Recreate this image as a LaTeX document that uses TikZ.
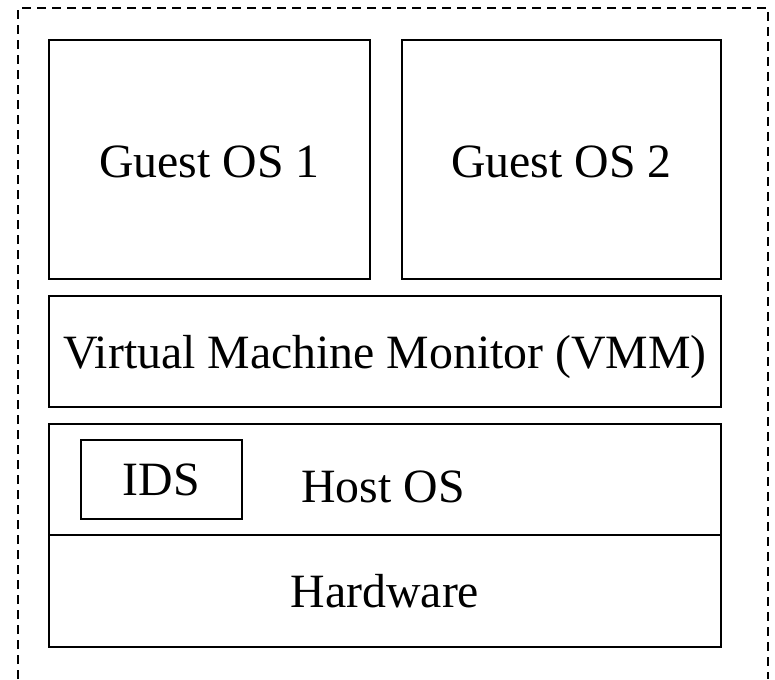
\documentclass[tikz,border=0pt]{standalone}
\usepackage{fontspec}
\setmainfont{Liberation Serif}
\begin{document}
\begin{tikzpicture}[x=1pt,y=-1pt,
  layer/.style={draw=black,line width=2pt,rectangle,inner sep=0pt,outer sep=0pt,
    text height=31.6pt,text depth=0pt,font=\fontsize{47.8}{57}\selectfont},
  frame/.style={draw=black,line width=2pt,dash pattern=on 9pt off 6pt}]
\useasboundingbox (0,0) rectangle (775,679);
\coordinate (fbl) at (18,679);
\coordinate (ftl) at (18,8);
\coordinate (ftr) at (768,8);
\coordinate (fbr) at (768,679);
\draw[frame] (fbl) -- (ftl) -- (ftr) -- (fbr);
\node[layer,text height=36.6pt,minimum width=321pt,minimum height=239pt] (g1) at (209.5,159.5) {Guest OS 1};
\node[layer,text height=36.6pt,minimum width=319pt,minimum height=239pt] (g2) at (561.5,159.5) {Guest OS 2};
\node[layer,text height=34.6pt,minimum width=672pt,minimum height=111pt] (vmm) at (385,351.5) {Virtual Machine Monitor (VMM)};
\node[layer,minimum width=672pt,minimum height=111pt] (host) at (385,479.5) {};
\node[layer,text height=33.6pt,minimum width=672pt,minimum height=112pt] (hw) at (385,591) {Hardware};
\node[layer,minimum width=161pt,minimum height=79pt] (ids) at (161.5,479.5) {IDS};
\node[font=\fontsize{47.8}{57}\selectfont,inner sep=0pt,anchor=base] (hostlabel) at (383,502) {Host OS};
\end{tikzpicture}
\end{document}
